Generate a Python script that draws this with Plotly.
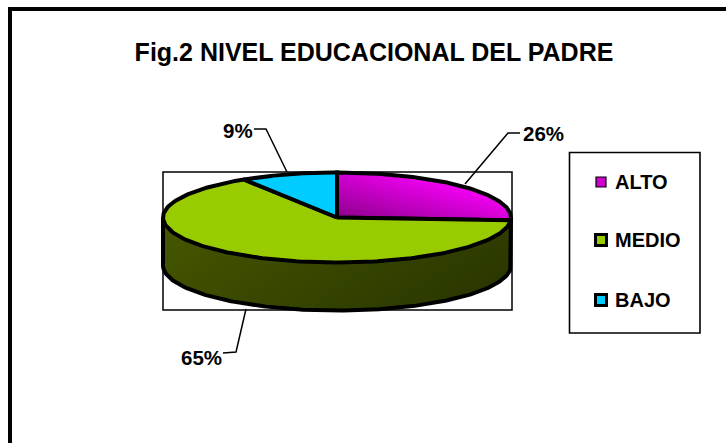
import numpy as np
import plotly.graph_objects as go

categories = ["ALTO", "MEDIO", "BAJO"]
values = [26, 65, 9]
top_colors = ["#CC00CC", "#99CC00", "#00CCFF"]
title_text = "Fig.2 NIVEL EDUCACIONAL DEL PADRE"

# pie geometry (pixel-like axis units)
CX, CY, RX, RY, DEPTH = 337.0, 217.5, 174.0, 45.0, 48.0
FONT = "Liberation Sans, Arial, sans-serif"

fracs = np.cumsum([0] + values) / sum(values) * 2 * np.pi


def pt(theta, dy=0.0):
    return CX + RX * np.sin(theta), CY - RY * np.cos(theta) + dy


def in_wedge(X, Y, a0, a1):
    u = (X - CX) / RX
    v = (Y - CY) / RY
    ang = np.mod(np.arctan2(u, -v), 2 * np.pi)
    return (u * u + v * v <= 1) & (ang >= a0) & (ang <= a1)


xs = np.arange(160, 516, 1.0)
ys = np.arange(168, 316, 1.0)
X, Y = np.meshgrid(xs, ys)

fig = go.Figure()

# plot-area rectangle behind the pie
fig.add_shape(type="rect", x0=163, x1=512, y0=172, y1=310, line=dict(color="black", width=1.5), layer="below")

# side wall gradient (front part, lies under the top face)
u = (X - CX) / RX
side_mask = (np.abs(u) <= 1)
upper = CY + RY * np.sqrt(np.clip(1 - u * u, 0, 1))
side_mask &= (Y >= upper - 1) & (Y <= upper + DEPTH)
side_t = ((X - 163) / 349 * 0.7 + (Y - 218) / 94 * 0.3)
side_z = np.where(side_mask, side_t, np.nan)
fig.add_trace(go.Heatmap(x=xs, y=ys, z=side_z, zmin=0, zmax=1, showscale=False, hoverinfo="skip",
                         colorscale=[[0, "#465800"], [1, "#263300"]]))

# outline of side wall
th = np.linspace(np.pi / 2, 3 * np.pi / 2, 200)
sx, sy = pt(th, DEPTH)
lx, ly = pt(np.pi / 2)
fig.add_trace(go.Scatter(x=np.r_[lx, sx, CX - RX], y=np.r_[ly, sy, CY],
                         mode="lines", line=dict(color="black", width=4), hoverinfo="skip", showlegend=False))

# top face
alto_t = np.clip(((X - CX) / RX * 0.6 + (CY - Y) / RY * 0.55 + 0.1), 0, 1)
alto_z = np.where(in_wedge(X, Y, fracs[0], fracs[1]), alto_t, np.nan)
fig.add_trace(go.Heatmap(x=xs, y=ys, z=alto_z, zmin=0, zmax=1, showscale=False, hoverinfo="skip",
                         colorscale=[[0, "#800080"], [1, "#FF00FF"]]))

for i in range(3):
    th = np.linspace(fracs[i], fracs[i + 1], 200)
    wx, wy = pt(th)
    fig.add_trace(go.Scatter(
        x=np.r_[CX, wx, CX], y=np.r_[CY, wy, CY], mode="lines",
        fill="toself" if i else "none", fillcolor=top_colors[i],
        line=dict(color="black", width=4), hoverinfo="skip", showlegend=False, name=categories[i]))

# leader lines and data labels
leaders = [
    ([465, 508, 520], [184, 133, 133], 521, 133, "left"),
    ([246, 236, 223], [309, 352, 353], 224, 357, "right"),
    ([287, 266, 254], [172, 129, 129], 255, 130, "right"),
]
for v, (lxs, lys, tx, ty, anchor) in zip(values, leaders):
    fig.add_trace(go.Scatter(x=lxs, y=lys, mode="lines", line=dict(color="black", width=1.5),
                             hoverinfo="skip", showlegend=False))
    fig.add_annotation(x=tx, y=ty, text=f"<b>{v}%</b>", showarrow=False, xanchor=anchor, yanchor="middle",
                       font=dict(family=FONT, size=20.5, color="black"))

# legend box
fig.add_shape(type="rect", x0=569.5, x1=700, y0=152.5, y1=333, line=dict(color="black", width=1.6))
legend_y = [182, 240, 300]
legend_size = [10, 11, 11]
legend_line = [1.2, 3, 3]
legend_colors = ["#CC00CC", "#99CC00", "#00CCFF"]
for c, yy, s, lw, col in zip(categories, legend_y, legend_size, legend_line, legend_colors):
    fig.add_trace(go.Scatter(x=[601], y=[yy], mode="markers", hoverinfo="skip", showlegend=False,
                             marker=dict(symbol="square", size=s, color=col, line=dict(color="black", width=lw))))
    fig.add_annotation(x=613, y=yy, text=f"<b>{c}</b>", showarrow=False, xanchor="left", yanchor="middle",
                       font=dict(family=FONT, size=20, color="black"))

# outer frame: only top and left edges lie inside the crop
fig.add_trace(go.Scatter(x=[10, 10, 726], y=[443, 9, 9], mode="lines",
                         line=dict(color="black", width=4), hoverinfo="skip", showlegend=False))

fig.update_layout(
    width=726, height=443, autosize=False,
    margin=dict(l=0, r=0, t=0, b=0),
    paper_bgcolor="white", plot_bgcolor="white", showlegend=False,
    title=dict(text=f"<b>{title_text}</b>", x=374 / 726, xanchor="center", y=1 - 52 / 443, yanchor="middle",
               font=dict(family=FONT, size=25, color="black")),
    xaxis=dict(range=[0, 726], visible=False, fixedrange=True),
    yaxis=dict(range=[443, 0], visible=False, fixedrange=True),
)
fig.write_html("out.html", config={"displayModeBar": False},
               post_script="document.body.style.margin='0';")
